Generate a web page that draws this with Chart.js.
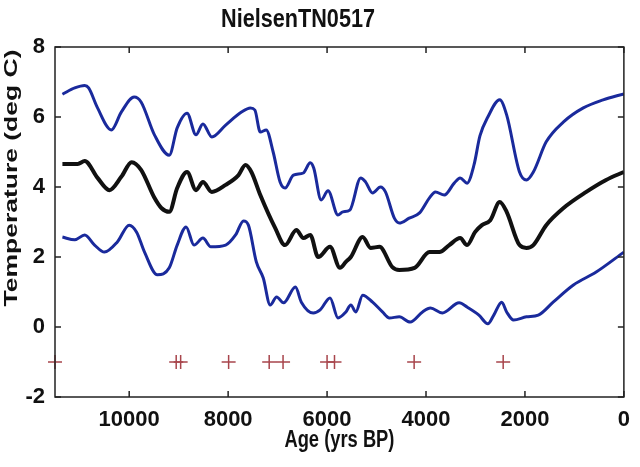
<!DOCTYPE html>
<html>
<head>
<meta charset="utf-8">
<script src="https://cdn.jsdelivr.net/npm/chart.js@4.4.0/dist/chart.umd.min.js"></script>
<style>
  html, body { margin: 0; padding: 0; background: #fff; }
</style>
</head>
<body>
<canvas id="nielsenChart" width="640" height="467"></canvas>
<script>
// upper blue band (yrs BP / deg C)
const upperAge = [11350, 11100, 10900, 10820, 10640, 10360, 10160, 9900, 9760, 9490, 9190, 9030, 8830, 8650, 8510, 8330, 8050, 7730, 7550, 7460, 7350, 7230, 7090, 6950, 6850, 6680, 6480, 6340, 6270, 6120, 5980, 5780, 5680, 5540, 5320, 5220, 5080, 4920, 4820, 4640, 4540, 4340, 4130, 3930, 3810, 3630, 3430, 3310, 3170, 3030, 2910, 2750, 2510, 2370, 2110, 1970, 1830, 1570, 1220, 820, 420, 0];
const upperTemp = [6.65, 6.83, 6.9, 6.83, 6.26, 5.63, 6.14, 6.57, 6.43, 5.49, 4.91, 5.69, 6.11, 5.49, 5.8, 5.43, 5.77, 6.14, 6.26, 6.2, 5.57, 5.63, 5.0, 4.14, 3.97, 4.34, 4.4, 4.69, 4.54, 3.63, 3.89, 3.2, 3.29, 3.34, 4.26, 4.14, 3.83, 4.0, 3.86, 3.11, 2.97, 3.11, 3.26, 3.69, 3.86, 3.77, 4.11, 4.26, 4.11, 4.63, 5.46, 6.0, 6.49, 6.06, 4.43, 4.2, 4.43, 5.29, 5.86, 6.26, 6.49, 6.66];

// black mean curve
const meanAge = [11350, 11040, 10900, 10640, 10400, 10160, 9950, 9760, 9490, 9350, 9190, 9030, 8830, 8650, 8510, 8330, 8050, 7790, 7650, 7530, 7350, 7050, 6850, 6620, 6480, 6340, 6180, 5940, 5740, 5620, 5520, 5280, 5120, 4940, 4680, 4540, 4230, 3930, 3730, 3530, 3310, 3170, 3010, 2870, 2700, 2510, 2370, 2110, 1970, 1830, 1570, 1220, 760, 360, 0];
const meanTemp = [4.66, 4.66, 4.74, 4.26, 3.91, 4.29, 4.71, 4.49, 3.69, 3.4, 3.29, 3.97, 4.43, 3.91, 4.14, 3.86, 4.06, 4.34, 4.63, 4.43, 3.77, 2.83, 2.34, 2.77, 2.54, 2.63, 2.0, 2.29, 1.69, 1.86, 2.0, 2.57, 2.26, 2.29, 1.71, 1.63, 1.69, 2.14, 2.14, 2.34, 2.54, 2.34, 2.71, 2.91, 3.05, 3.57, 3.29, 2.34, 2.26, 2.34, 2.91, 3.4, 3.86, 4.2, 4.43];

// lower blue band
const lowerAge = [11350, 11100, 10900, 10700, 10500, 10240, 10000, 9850, 9690, 9430, 9190, 9030, 8850, 8690, 8510, 8350, 8050, 7850, 7690, 7590, 7430, 7290, 7150, 7020, 6880, 6640, 6520, 6280, 6140, 5940, 5780, 5620, 5520, 5420, 5280, 5080, 4880, 4740, 4540, 4320, 4070, 3910, 3670, 3330, 3170, 2930, 2750, 2630, 2470, 2370, 2230, 1970, 1730, 1430, 1020, 560, 0];
const lowerTemp = [2.57, 2.49, 2.63, 2.34, 2.14, 2.43, 2.91, 2.71, 2.14, 1.49, 1.69, 2.34, 2.86, 2.34, 2.54, 2.29, 2.34, 2.63, 3.03, 2.91, 1.86, 1.4, 0.63, 0.86, 0.69, 1.14, 0.71, 0.4, 0.49, 0.83, 0.26, 0.43, 0.63, 0.43, 0.91, 0.71, 0.43, 0.26, 0.29, 0.14, 0.43, 0.54, 0.4, 0.69, 0.57, 0.34, 0.09, 0.34, 0.71, 0.43, 0.2, 0.29, 0.34, 0.71, 1.2, 1.57, 2.14];

// age control points shown as crosses
const markerAge = [11500, 9050, 8960, 7990, 7170, 6890, 6000, 5850, 4240, 2440];
const markerLevel = -1;

const xTicks = [10000, 8000, 6000, 4000, 2000, 0];
const yTicks = [8, 6, 4, 2, 0, -2];

const toPoints = (xs, ys) => xs.map((x, i) => ({ x: x, y: ys[i] }));

const tickFont = { family: "'Liberation Sans Narrow', 'Liberation Sans', Arial, sans-serif", size: 22, weight: 'bold' };

function drawText(ctx, text, x, y, size, width, angle, squeeze) {
    ctx.save();
    ctx.translate(x, y);
    ctx.rotate(angle);
    ctx.font = 'bold ' + size + "px 'Liberation Sans', Arial, sans-serif";
    const w = ctx.measureText(text).width;
    ctx.scale(width / w, squeeze);
    ctx.textAlign = 'center';
    ctx.textBaseline = 'middle';
    ctx.fillStyle = '#111';
    ctx.fillText(text, 0, 0);
    ctx.restore();
}

// box round the plot, ticks pointing inward, titles
const framePlugin = {
    id: 'frame',
    afterDatasetsDraw(chart) {
        const ctx = chart.ctx;
        const a = chart.chartArea;
        const xs = chart.scales.x;
        const ys = chart.scales.y;
        ctx.save();
        ctx.strokeStyle = '#222';
        ctx.lineWidth = 1.5;
        ctx.strokeRect(a.left, a.top, a.right - a.left, a.bottom - a.top);
        ctx.beginPath();
        xTicks.forEach(v => {
            const px = xs.getPixelForValue(v);
            ctx.moveTo(px, a.bottom); ctx.lineTo(px, a.bottom - 6);
            ctx.moveTo(px, a.top); ctx.lineTo(px, a.top + 6);
        });
        yTicks.forEach(v => {
            const py = ys.getPixelForValue(v);
            ctx.moveTo(a.left, py); ctx.lineTo(a.left + 6, py);
            ctx.moveTo(a.right, py); ctx.lineTo(a.right - 6, py);
        });
        ctx.stroke();
        ctx.restore();
    },
    afterDraw(chart) {
        const ctx = chart.ctx;
        const a = chart.chartArea;
        drawText(ctx, 'NielsenTN0517', 298, 20, 26, 154, 0, 1);
        drawText(ctx, 'Age (yrs BP)', (a.left + a.right) / 2, 441, 23, 110, 0, 1);
        drawText(ctx, 'Temperature (deg C)', 12, 178, 24, 257, -Math.PI / 2, 0.76);
    }
};

const ctx = document.getElementById('nielsenChart').getContext('2d');
const chart = new Chart(ctx, {
    type: 'line',
    data: {
        datasets: [{
            label: 'Upper',
            data: toPoints(upperAge, upperTemp),
            borderColor: '#1a2a9c',
            borderWidth: 3,
            pointRadius: 0,
            cubicInterpolationMode: 'monotone'
        }, {
            label: 'Mean',
            data: toPoints(meanAge, meanTemp),
            borderColor: '#111111',
            borderWidth: 4,
            pointRadius: 0,
            cubicInterpolationMode: 'monotone'
        }, {
            label: 'Lower',
            data: toPoints(lowerAge, lowerTemp),
            borderColor: '#1a2a9c',
            borderWidth: 3,
            pointRadius: 0,
            cubicInterpolationMode: 'monotone'
        }, {
            label: 'Dates',
            data: markerAge.map(x => ({ x: x, y: markerLevel })),
            showLine: false,
            pointStyle: 'cross',
            pointRadius: 7,
            pointBorderWidth: 1.5,
            pointBorderColor: '#a8454c',
            clip: false
        }]
    },
    options: {
        responsive: false,
        animation: false,
        layout: { padding: { left: 0, right: 12, top: 47, bottom: 0 } },
        plugins: {
            legend: { display: false },
            title: { display: false },
            tooltip: { enabled: false }
        },
        scales: {
            x: {
                type: 'linear',
                reverse: true,
                min: 0,
                max: 11500,
                grid: { display: false, drawTicks: false },
                border: { display: false },
                afterBuildTicks: scale => { scale.ticks = xTicks.map(v => ({ value: v })); },
                afterFit: scale => { scale.height = 70; },
                ticks: { color: '#111', font: tickFont, padding: 10, maxRotation: 0, callback: v => String(v) }
            },
            y: {
                min: -2,
                max: 8,
                grid: { display: false, drawTicks: false },
                border: { display: false },
                afterBuildTicks: scale => { scale.ticks = yTicks.map(v => ({ value: v })); },
                afterFit: scale => { scale.width = 55; },
                ticks: { color: '#111', font: tickFont, padding: 10, callback: v => String(v) }
            }
        }
    },
    plugins: [framePlugin]
});
</script>
</body>
</html>
